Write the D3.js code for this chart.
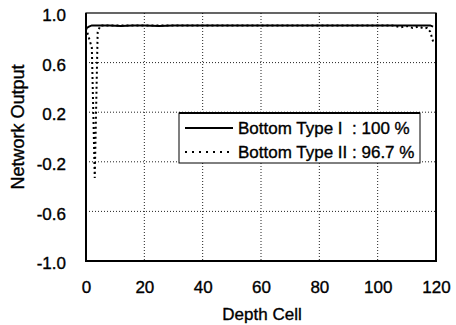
<!DOCTYPE html>
<html>
<head>
<meta charset="utf-8">
<script src="https://cdn.jsdelivr.net/npm/d3@7"></script>
<style>
  html, body { margin: 0; padding: 0; background: #fff; }
  svg { display: block; }
  text { font-family: "Liberation Sans", Arial, sans-serif; fill: #000; stroke: #000; stroke-width: 0.35px; }
</style>
</head>
<body>
<svg id="chart" width="456" height="325"></svg>
<script>
// ---- data ----
const xTicks = [0, 20, 40, 60, 80, 100, 120];
const yTicks = [1.0, 0.6, 0.2, -0.2, -0.6, -1.0];
const yTickLabels = ["1.0", "0.6", "0.2", "-0.2", "-0.6", "-1.0"];

const seriesNames = ["Bottom Type I  : 100 %", "Bottom Type II : 96.7 %"];

const depthI  = [0, 1, 2, 4, 8, 12, 16, 20, 25, 30, 35, 40, 45, 50, 55, 60, 65, 70, 75, 80, 85, 90, 95, 100, 105, 110, 115, 118, 119];
const valueI  = [0.875, 0.89, 0.9, 0.9, 0.9, 0.895, 0.9, 0.9, 0.895, 0.9, 0.9, 0.9, 0.9, 0.9, 0.9, 0.9, 0.9, 0.9, 0.9, 0.9, 0.9, 0.9, 0.9, 0.9, 0.9, 0.9, 0.9, 0.9, 0.89];

const depthII = [0, 1, 2, 3, 4, 5, 10, 20, 30, 40, 50, 60, 70, 80, 90, 100, 105, 108, 110, 112, 114, 116, 117, 118, 119];
const valueII = [0.88, 0.8, 0.72, -0.33, 0.85, 0.9, 0.9, 0.9, 0.9, 0.9, 0.9, 0.9, 0.9, 0.9, 0.9, 0.9, 0.9, 0.885, 0.895, 0.88, 0.89, 0.875, 0.88, 0.85, 0.77];

// ---- layout ----
const svg = d3.select("#chart");
const mLeft = 86, mRight = 436, mTop = 13, mBottom = 261;

const x = d3.scaleLinear().domain([0, 120]).range([mLeft, mRight]);
const y = d3.scaleLinear().domain([-1, 1]).range([mBottom, mTop]);

// grid lines (dotted)
const grid = svg.append("g");
grid.selectAll("line.vg").data(xTicks.slice(1, -1)).join("line")
  .attr("x1", d => x(d)).attr("x2", d => x(d))
  .attr("y1", mTop).attr("y2", mBottom)
  .attr("stroke", "#222").attr("stroke-width", 1).attr("stroke-dasharray", "1,2");
grid.selectAll("line.hg").data(yTicks.slice(1, -1)).join("line")
  .attr("y1", d => y(d)).attr("y2", d => y(d))
  .attr("x1", mLeft).attr("x2", mRight)
  .attr("stroke", "#222").attr("stroke-width", 1).attr("stroke-dasharray", "1,2");

// axes (labels only, no tick marks)
const xAxis = d3.axisBottom(x).tickValues(xTicks).tickSize(0).tickPadding(0).tickFormat(d3.format("d"));
const gx = svg.append("g").attr("transform", `translate(0,${mBottom})`).call(xAxis);
gx.select(".domain").remove();
gx.selectAll("text").attr("y", 32).attr("dy", 0).style("font-size", "17px").style("font-family", "Liberation Sans, Arial, sans-serif");

const yAxis = d3.axisLeft(y).tickValues(yTicks).tickSize(0).tickPadding(0)
  .tickFormat((d, i) => yTickLabels[i]);
const gy = svg.append("g").attr("transform", `translate(${mLeft},0)`).call(yAxis);
gy.select(".domain").remove();
gy.selectAll("text").attr("x", -20).attr("dy", "0.45em").style("font-size", "17px").style("font-family", "Liberation Sans, Arial, sans-serif");

// lines
const lineGen = d3.line().x(d => x(d[0])).y(d => y(d[1]));
const dataI = depthI.map((d, i) => [d, valueI[i]]);
const dataII = depthII.map((d, i) => [d, valueII[i]]);

svg.append("path").datum(dataI).attr("d", lineGen)
  .attr("fill", "none").attr("stroke", "#000").attr("stroke-width", 2);
svg.append("path").datum(dataII).attr("d", lineGen)
  .attr("fill", "none").attr("stroke", "#000").attr("stroke-width", 2)
  .attr("stroke-dasharray", "2,3");

// frame
svg.append("rect").attr("x", mLeft).attr("y", mTop).attr("width", mRight - mLeft).attr("height", mBottom - mTop)
  .attr("fill", "none").attr("stroke", "#000").attr("stroke-width", 1.2);
svg.append("line").attr("x1", mLeft).attr("x2", mLeft).attr("y1", mTop).attr("y2", mBottom + 1)
  .attr("stroke", "#000").attr("stroke-width", 2);
svg.append("line").attr("x1", mLeft).attr("x2", mRight + 1).attr("y1", mBottom).attr("y2", mBottom)
  .attr("stroke", "#000").attr("stroke-width", 2);
svg.append("line").attr("x1", mRight).attr("x2", mRight).attr("y1", mTop).attr("y2", mBottom)
  .attr("stroke", "#000").attr("stroke-width", 2);

// legend
const lg = svg.append("g");
lg.append("rect").attr("x", 179).attr("y", 113).attr("width", 241).attr("height", 50)
  .attr("fill", "#fff").attr("stroke", "#000").attr("stroke-width", 1);
lg.append("line").attr("x1", 179).attr("x2", 420).attr("y1", 113).attr("y2", 113)
  .attr("stroke", "#000").attr("stroke-width", 2);
const rows = [{ dash: null, yy: 128 }, { dash: "2,5", yy: 152 }];
rows.forEach((r, i) => {
  const l = lg.append("line").attr("x1", 185).attr("x2", 233).attr("y1", r.yy).attr("y2", r.yy)
    .attr("stroke", "#000").attr("stroke-width", 2);
  if (r.dash) l.attr("stroke-dasharray", r.dash);
  lg.append("text").attr("x", 238).attr("y", r.yy).attr("dy", "0.36em")
    .style("font-size", "17px").style("white-space", "pre").attr("xml:space", "preserve")
    .text(seriesNames[i]);
});

// axis titles
svg.append("text").attr("x", 262).attr("y", 320).attr("text-anchor", "middle")
  .style("font-size", "17px").text("Depth Cell");
svg.append("text").attr("transform", "translate(24,127) rotate(-90)").attr("text-anchor", "middle")
  .style("font-size", "18px").text("Network Output");
</script>
</body>
</html>
